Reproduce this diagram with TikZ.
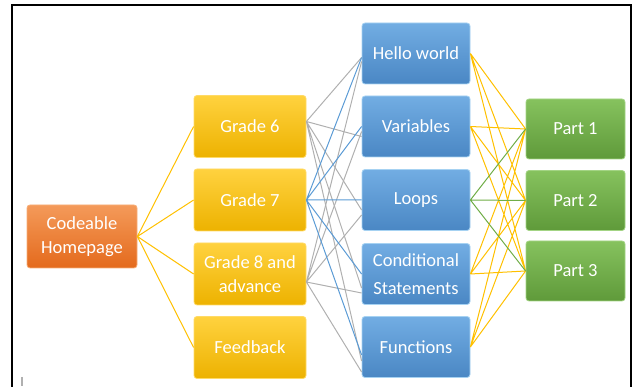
\documentclass[tikz,border=0pt]{standalone}
\usepackage{fontspec}
\setmainfont{Carlito}
\usepackage{tikz}

\definecolor{homeTop}{HTML}{F49A5A}
\definecolor{homeMid}{HTML}{EE7A2E}
\definecolor{homeBot}{HTML}{E46A1C}
\definecolor{homeEdge}{HTML}{F7AE78}
\definecolor{gradeTop}{HTML}{FFD23F}
\definecolor{gradeMid}{HTML}{FFC000}
\definecolor{gradeBot}{HTML}{EDB200}
\definecolor{gradeEdge}{HTML}{FFDA66}
\definecolor{topicTop}{HTML}{72ADE3}
\definecolor{topicMid}{HTML}{5B9BD5}
\definecolor{topicBot}{HTML}{4A87C4}
\definecolor{topicEdge}{HTML}{A6D2F2}
\definecolor{partTop}{HTML}{86C25E}
\definecolor{partMid}{HTML}{70AD47}
\definecolor{partBot}{HTML}{5F9A3A}
\definecolor{partEdge}{HTML}{A3D484}
\definecolor{lnYellow}{HTML}{FFC000}
\definecolor{lnGray}{HTML}{B0B0B0}
\definecolor{lnBlue}{HTML}{5B9BD5}
\definecolor{lnGreen}{HTML}{70AD47}

\begin{document}
\begin{tikzpicture}[x=1pt, y=-1pt,
    card/.style={rounded corners=3pt, text=white, align=center, inner sep=0pt,
        line width=0.8pt, font=\fontsize{18.5}{24}\selectfont},
    homebox/.style={card, draw=homeEdge, top color=homeTop, middle color=homeMid,
        bottom color=homeBot, minimum width=110pt, minimum height=63pt},
    gradebox/.style={card, draw=gradeEdge, top color=gradeTop, middle color=gradeMid,
        bottom color=gradeBot, minimum width=112pt, minimum height=62pt},
    topicbox/.style={card, draw=topicEdge, top color=topicTop, middle color=topicMid,
        bottom color=topicBot, minimum width=108pt, minimum height=61pt},
    partbox/.style={card, draw=partEdge, top color=partTop, middle color=partMid,
        bottom color=partBot, minimum width=99pt, minimum height=60pt},
    link/.style={line width=1pt}]

    \useasboundingbox (0, 0) rectangle (633, 387);
    \draw[line width=2pt] (12, 387) -- (12, 5) -- (631, 5) -- (631, 387);
    \draw[lnGray, line width=1.5pt] (22, 377) -- (22, 386);

    \node[homebox] (home) at (82, 236.5) {Codeable\\Homepage};

    \node[gradebox] (g1) at (250, 126.5) {Grade 6};
    \node[gradebox] (g2) at (250, 200) {Grade 7};
    \node[gradebox] (g3) at (250, 274) {Grade 8 and\\advance};
    \node[gradebox] (g4) at (250, 347.5) {Feedback};

    \node[topicbox] (c1) at (416, 53.5) {Hello world};
    \node[topicbox] (c2) at (416, 126.5) {Variables};
    \node[topicbox] (c3) at (416, 200) {Loops};
    \node[topicbox, font=\fontsize{18.5}{28}\selectfont] (c4) at (416, 274) {Conditional\\Statements};
    \node[topicbox] (c5) at (416, 347) {Functions};

    \node[partbox] (p1) at (575.5, 129) {Part 1};
    \node[partbox] (p2) at (575.5, 200.5) {Part 2};
    \node[partbox] (p3) at (575.5, 271) {Part 3};

    \draw[link, lnYellow] (home.east) -- (g1.west) (home.east) -- (g2.west)
        (home.east) -- (g3.west) (home.east) -- (g4.west);

    % grade 6 and grade 8
    \draw[link, lnGray] ([yshift=5pt]g1.east) -- ([yshift=-4pt]c1.west)
        ([yshift=5pt]g1.east) -- ([yshift=-10pt]c2.west)
        ([yshift=5pt]g1.east) -- ([yshift=-10pt]c3.west)
        ([yshift=5pt]g1.east) -- ([yshift=-14pt]c4.west)
        ([yshift=5pt]g1.east) -- ([yshift=-14pt]c5.west);
    \draw[link, lnGray] ([yshift=-8pt]g3.east) -- ([yshift=-8pt]c1.west)
        ([yshift=-8pt]g3.east) -- ([yshift=-5pt]c2.west)
        ([yshift=-8pt]g3.east) -- ([yshift=-15pt]c3.west)
        ([yshift=-8pt]g3.east) -- ([yshift=-19pt]c4.west)
        ([yshift=-8pt]g3.east) -- ([yshift=-25pt]c5.west);
    % grade 7
    \draw[link, lnBlue] (g2.east) -- ([yshift=-4pt]c1.west)
        (g2.east) -- (c2.west) (g2.east) -- (c3.west)
        (g2.east) -- (c4.west) (g2.east) -- ([yshift=-8pt]c5.west);

    \draw[link, lnYellow] (c1.east) -- (p1.west) (c1.east) -- (p2.west) (c1.east) -- (p3.west)
        (c2.east) -- (p1.west) (c2.east) -- (p2.west) (c2.east) -- (p3.west)
        (c4.east) -- (p1.west) (c4.east) -- (p2.west) (c4.east) -- (p3.west)
        (c5.east) -- (p1.west) (c5.east) -- (p2.west) (c5.east) -- (p3.west);
    \draw[link, lnGreen] (c3.east) -- (p1.west) (c3.east) -- (p2.west) (c3.east) -- (p3.west);
\end{tikzpicture}
\end{document}
